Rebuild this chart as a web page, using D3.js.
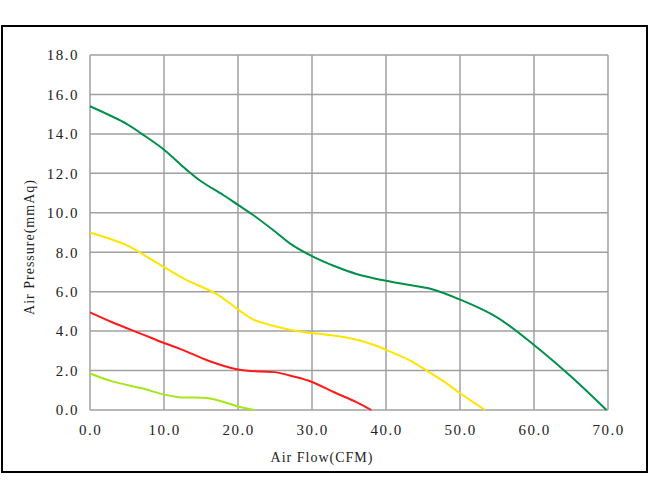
<!DOCTYPE html>
<meta charset="utf-8">
<script src="https://d3js.org/d3.v7.min.js"></script>
<style>
  body { margin: 0; background: #fff; }
  text { font-family: "Liberation Serif", "DejaVu Serif", serif; fill: #222; }
</style>
<body>
<div id="chart"></div>
<script>
// axis ticks
var xTicks = [0, 10, 20, 30, 40, 50, 60, 70];
var yTicks = [0, 2, 4, 6, 8, 10, 12, 14, 16, 18];

// curves: [air flow CFM, pressure mmAq]
var greenCurve = [[0,15.4],[5,14.5],[7,14],[10,13.2],[13,12.2],[15,11.6],[18,10.9],[20,10.4],[22,9.9],[25,9.05],[27,8.45],[30,7.8],[33,7.3],[36,6.9],[40,6.55],[43,6.35],[46,6.15],[50,5.6],[55,4.7],[60,3.3],[65,1.7],[69.8,0]];
var yellowCurve = [[0,9.0],[5,8.35],[8,7.7],[10,7.25],[13,6.6],[17,5.9],[20,5.1],[22,4.6],[25,4.25],[28,4.0],[30,3.9],[35,3.65],[38,3.35],[40,3.05],[43,2.55],[45.5,2.0],[48,1.4],[50,0.85],[53.4,0]];
var redCurve = [[0,4.95],[3,4.45],[7,3.85],[10,3.4],[12.5,3.05],[16,2.5],[20,2.05],[23,1.95],[25,1.92],[27.5,1.7],[30,1.42],[33,0.9],[36,0.4],[38,0]];
var limeCurve = [[0,1.85],[3,1.45],[7,1.1],[10,0.78],[12,0.65],[16,0.6],[18,0.42],[20,0.18],[22.2,0]];

var series = [
  {data: greenCurve, color: "#00904a"},
  {data: yellowCurve, color: "#ffe400"},
  {data: redCurve, color: "#ff1a1a"},
  {data: limeCurve, color: "#a6e61a"}
];

var W = 650, H = 500;
var margin = {top: 55, left: 90},
    width = 608 - 90,
    height = 410 - 55;

var root = d3.select("#chart").append("svg")
  .attr("width", W)
  .attr("height", H);

// outer frame
root.append("rect")
  .attr("x", 2).attr("y", 26)
  .attr("width", 645).attr("height", 446)
  .attr("fill", "none")
  .attr("stroke", "#000")
  .attr("stroke-width", 2);

var svg = root.append("g")
  .attr("transform", "translate(" + margin.left + "," + margin.top + ")");

var x = d3.scaleLinear().domain([0, 70]).range([0, width]);
var y = d3.scaleLinear().domain([0, 18]).range([height, 0]);

// grid
svg.selectAll(".vgrid")
  .data(xTicks)
  .enter().append("line")
  .attr("x1", function(d) { return x(d); })
  .attr("x2", function(d) { return x(d); })
  .attr("y1", 0).attr("y2", height)
  .attr("stroke", "#a0a0a0")
  .attr("stroke-width", 1.5);

svg.selectAll(".hgrid")
  .data(yTicks)
  .enter().append("line")
  .attr("x1", 0).attr("x2", width)
  .attr("y1", function(d) { return y(d); })
  .attr("y2", function(d) { return y(d); })
  .attr("stroke", "#a0a0a0")
  .attr("stroke-width", 1.5);

// X axis labels
var xAxis = svg.append("g")
  .attr("transform", "translate(0," + height + ")")
  .call(d3.axisBottom(x).tickValues(xTicks).tickSize(0).tickPadding(14).tickFormat(d3.format(".1f")));
xAxis.select(".domain").remove();
xAxis.selectAll("text")
  .style("font-size", "15px")
  .style("letter-spacing", "1.5px")
  .style("font-family", "Liberation Serif, serif")
  .attr("fill", "#222");

// Y axis labels
var yAxis = svg.append("g")
  .call(d3.axisLeft(y).tickValues(yTicks).tickSize(0).tickPadding(11).tickFormat(d3.format(".1f")));
yAxis.select(".domain").remove();
yAxis.selectAll("text")
  .style("font-size", "15px")
  .style("letter-spacing", "1.5px")
  .style("font-family", "Liberation Serif, serif")
  .attr("fill", "#222");

// curves
var line = d3.line()
  .x(function(d) { return x(d[0]); })
  .y(function(d) { return y(d[1]); })
  .curve(d3.curveCatmullRom.alpha(0.5));

svg.selectAll(".curve")
  .data(series)
  .enter().append("path")
  .attr("d", function(d) { return line(d.data); })
  .attr("fill", "none")
  .attr("stroke", function(d) { return d.color; })
  .attr("stroke-width", 2);

// axis titles
root.append("text")
  .attr("x", 322).attr("y", 462)
  .attr("text-anchor", "middle")
  .style("font-size", "14px")
  .style("letter-spacing", "1px")
  .text("Air Flow(CFM)");

root.append("text")
  .attr("transform", "translate(34,247) rotate(-90)")
  .attr("text-anchor", "middle")
  .style("font-size", "14px")
  .style("letter-spacing", "1px")
  .text("Air Pressure(mmAq)");
</script>
</body>
